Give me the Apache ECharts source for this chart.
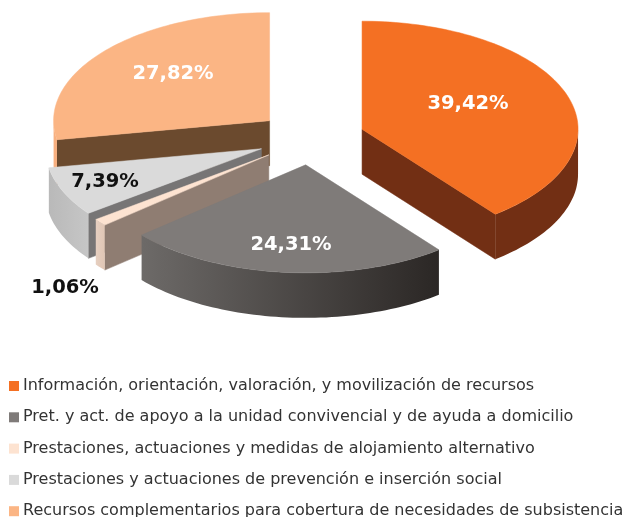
<!DOCTYPE html>
<html>
<head>
<meta charset="utf-8">
<style>html,body{margin:0;padding:0;background:#fff}#c{width:622px;height:517px;filter:blur(0.45px)}</style>
<script src="https://cdn.jsdelivr.net/npm/echarts@6/dist/echarts.min.js"></script>
</head>
<body>
<div id="c"></div>
<script>
const categories = [
  'Información, orientación, valoración, y movilización de recursos',
  'Pret. y act. de apoyo a la unidad convivencial y de ayuda a domicilio',
  'Prestaciones, actuaciones y medidas de alojamiento alternativo',
  'Prestaciones y actuaciones de prevención e inserción social',
  'Recursos complementarios para cobertura de necesidades de subsistencia'
];
const shares = [39.42, 24.31, 1.06, 7.39, 27.82];
const shareLabels = ['39,42%', '24,31%', '1,06%', '7,39%', '27,82%'];
const topColors = ['#f47023', '#7f7b79', '#fde3d1', '#dadada', '#fbb584'];
const wallColors = [['#722f14', '#722f14'], ['#6d6a68', '#2b2725'], ['#e6cfc0', '#e0c6b5'], ['#b9b9b9', '#c6c6c6'], ['#f8b080', '#f8b080']];
const cutColors = ['#722f14', '#7f7b79', '#8f7d72', '#777575', '#6b4a2e'];
const labelColors = ['#ffffff', '#ffffff', '#111111', '#111111', '#ffffff'];
const labelPos = [[468, 104], [291, 245], [65, 288], [105, 182], [173, 74]];

const cx = 311, cy = 138, rx = 216, ry = 108, depth = 45, explode = 54;
const total = shares.reduce((a, b) => a + b, 0);
const rad = d => d * Math.PI / 180;

function renderSlice(i) {
  return function (params, api) {
    const v = api.value(0);
    const before = shares.slice(0, i).reduce((a, b) => a + b, 0);
    const a0 = before / total * 360, a1 = a0 + v / total * 360, mid = (a0 + a1) / 2;
    const ax = cx + explode * Math.sin(rad(mid)), ay = cy - explode * 0.5 * Math.cos(rad(mid));
    const rim = (a, d) => [ax + rx * Math.sin(rad(a)), ay - ry * Math.cos(rad(a)) + (d || 0)];
    const arc = (s, e, d) => {
      const pts = [], n = Math.max(2, Math.ceil((e - s) / 1.5));
      for (let k = 0; k <= n; k++) pts.push(rim(s + (e - s) * k / n, d));
      return pts;
    };
    const children = [];
    const sS = Math.sin(rad(a0)), sE = Math.sin(rad(a1));
    const cut = (a, fill) => children.push({
      type: 'polygon',
      shape: { points: [[ax, ay], rim(a), rim(a, depth), [ax, ay + depth]] },
      style: { fill: fill, stroke: fill, lineWidth: 0.5 }
    });
    if (sS < -1e-6) cut(a0, cutColors[i]);
    if (sE > 1e-6) cut(a1, cutColors[i]);
    const w0 = Math.max(a0, 90), w1 = Math.min(a1, 270);
    if (w1 > w0) {
      const up = arc(w0, w1, 0), dn = arc(w0, w1, depth).reverse();
      const xs = up.map(p => p[0]);
      const minX = Math.min.apply(null, xs), maxX = Math.max.apply(null, xs);
      const c = wallColors[i];
      children.push({
        type: 'polygon',
        shape: { points: up.concat(dn) },
        style: {
          fill: { type: 'linear', x: minX, y: 0, x2: maxX, y2: 0, global: true,
                  colorStops: [{ offset: 0, color: c[0] }, { offset: 1, color: c[1] }] }
        }
      });
    }
    children.push({
      type: 'polygon',
      shape: { points: [[ax, ay]].concat(arc(a0, a1, 0)) },
      style: { fill: topColors[i], stroke: topColors[i], lineWidth: 0.5 }
    });
    children.push({
      type: 'text',
      style: {
        text: shareLabels[i], x: labelPos[i][0], y: labelPos[i][1],
        align: 'center', verticalAlign: 'middle',
        fill: labelColors[i],
        font: 'bold 19.5px "DejaVu Sans"'
      }
    });
    return { type: 'group', children: children };
  };
}

const chart = echarts.init(document.getElementById('c'), null, { renderer: 'canvas' });
chart.setOption({
  animation: false,
  backgroundColor: '#ffffff',
  legend: {
    orient: 'vertical', left: 9, top: 378, height: 220, padding: 0,
    itemWidth: 10, itemHeight: 10, itemGap: 15.3,
    selectedMode: false, icon: 'rect',
    data: categories,
    textStyle: { fontFamily: '"DejaVu Sans"', fontSize: 16, color: '#333333', padding: [0, 0, 0, -1], lineHeight: 16 }
  },
  series: categories.map((name, i) => ({
    type: 'custom',
    name: name,
    coordinateSystem: 'none',
    z: 10 - i,
    silent: true,
    itemStyle: { color: topColors[i] },
    renderItem: renderSlice(i),
    data: [[shares[i]]]
  }))
});
</script>
</body>
</html>
